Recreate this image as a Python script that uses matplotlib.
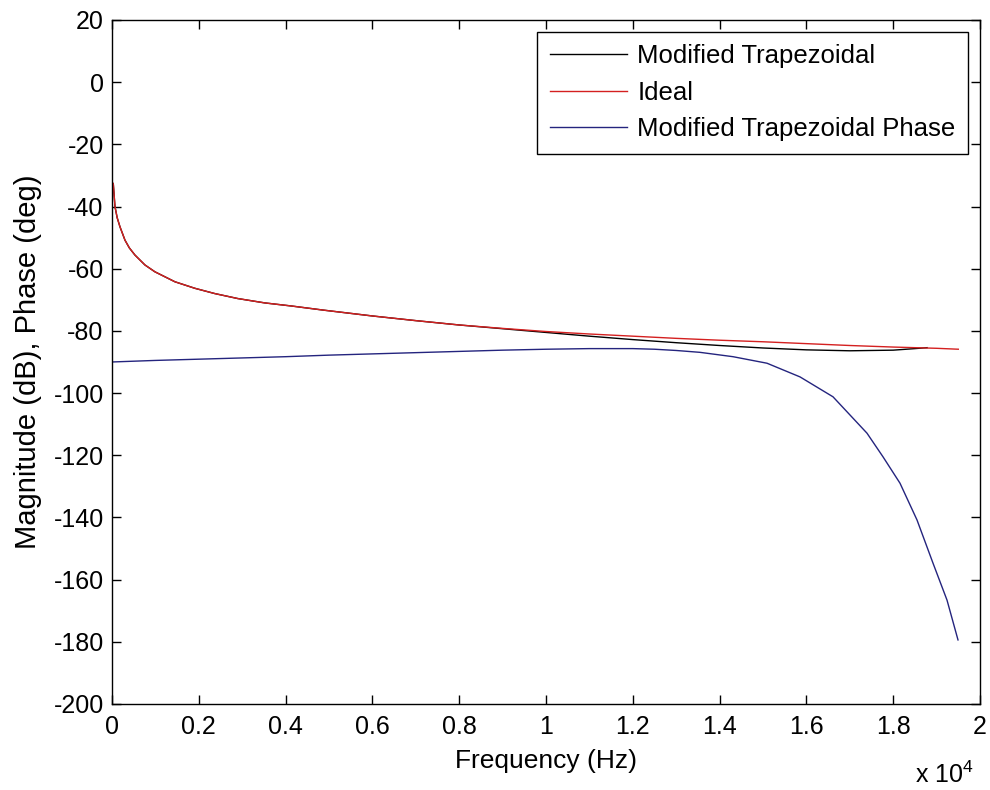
import matplotlib
matplotlib.use("Agg")
import matplotlib.pyplot as plt
from matplotlib.ticker import FuncFormatter, MultipleLocator

# Frequency response of the modified trapezoidal integrator vs. the ideal one
ideal_freq = [30, 69, 120, 184, 299, 400, 529, 760, 990, 1450, 1910, 2370,
              2900, 3520, 4140, 4860, 6000, 7000, 8000, 9000, 10000, 11000,
              12000, 13000, 14000, 15000, 16000, 17000, 18000, 19000, 19500]
ideal_db = [-32.6, -40.0, -43.6, -46.5, -50.8, -53.3, -55.6, -58.8, -61.0,
            -64.2, -66.3, -68.0, -69.6, -71.0, -72.0, -73.3, -75.2, -76.7,
            -78.1, -79.2, -80.2, -81.0, -81.7, -82.4, -83.0, -83.5, -84.1,
            -84.7, -85.2, -85.6, -85.9]

trap_freq = [30, 69, 120, 184, 299, 400, 529, 760, 990, 1450, 1910, 2370,
             2900, 3520, 4140, 4860, 6000, 7000, 8000, 9000, 10000, 11000,
             12000, 13000, 14000, 15000, 16000, 17000, 18000, 18500, 18780]
trap_db = [-32.6, -40.0, -43.6, -46.5, -50.8, -53.3, -55.6, -58.8, -61.0,
           -64.2, -66.3, -68.0, -69.6, -71.0, -72.0, -73.3, -75.2, -76.7,
           -78.1, -79.3, -80.5, -81.7, -82.8, -83.8, -84.7, -85.5, -86.1,
           -86.4, -86.2, -85.7, -85.4]

phase_freq = [0, 1000, 2000, 3000, 4000, 5000, 6000, 7000, 8000, 9000, 10000,
              11000, 12000, 12500, 13000, 13548, 14309, 15092, 15853, 16613,
              17396, 17765, 18157, 18548, 18917, 19240, 19493]
phase_deg = [-90.0, -89.5, -89.1, -88.7, -88.3, -87.8, -87.4, -87.0, -86.6,
             -86.2, -85.9, -85.7, -85.7, -85.9, -86.3, -86.9, -88.3, -90.4,
             -94.8, -101.2, -112.9, -120.5, -129.0, -140.8, -154.7, -166.6,
             -179.4]

plt.rcParams['font.family'] = ['Liberation Sans', 'DejaVu Sans']
plt.rcParams['mathtext.default'] = 'regular'
plt.rcParams['axes.unicode_minus'] = False
plt.rcParams['font.size'] = 18

fig = plt.figure(figsize=(9.9, 7.9), dpi=100)
ax = fig.add_axes([0.1131, 0.1089, 0.8768, 0.8658])

ax.plot(trap_freq, trap_db, color='black', lw=1.0, label='Modified Trapezoidal')
ax.plot(ideal_freq, ideal_db, color='#d42020', lw=1.0, label='Ideal')
ax.plot(phase_freq, phase_deg, color='#24247e', lw=1.0,
        label='Modified Trapezoidal Phase')

ax.set_xlim(0, 20000)
ax.set_ylim(-200, 20)
ax.xaxis.set_major_locator(MultipleLocator(2000))
ax.yaxis.set_major_locator(MultipleLocator(20))
ax.xaxis.set_major_formatter(FuncFormatter(lambda v, p: f"{v / 1e4:g}"))
ax.yaxis.set_major_formatter(FuncFormatter(lambda v, p: f"{v:g}"))
ax.tick_params(direction='in', length=6.5, width=1.0, top=True, right=True,
               labelsize=18)
ax.tick_params(axis='x', pad=8)
ax.tick_params(axis='y', pad=6)
for s in ax.spines.values():
    s.set_linewidth(1.0)

ax.set_xlabel('Frequency (Hz)', fontsize=19, labelpad=7)
ax.set_ylabel('Magnitude (dB), Phase (deg)', fontsize=21, labelpad=8)
ax.text(0.993, -0.115, 'x 10$^4$', transform=ax.transAxes, ha='right',
        va='baseline', fontsize=18)

lgd = ax.legend(loc='upper right', fontsize=18.5, frameon=True, fancybox=False,
                edgecolor='black', framealpha=1, borderaxespad=0.45,
                handlelength=3.0, handletextpad=0.4, borderpad=0.5,
                labelspacing=0.48)
lgd.get_frame().set_linewidth(1.0)

fig.savefig('out.png', dpi=100)
